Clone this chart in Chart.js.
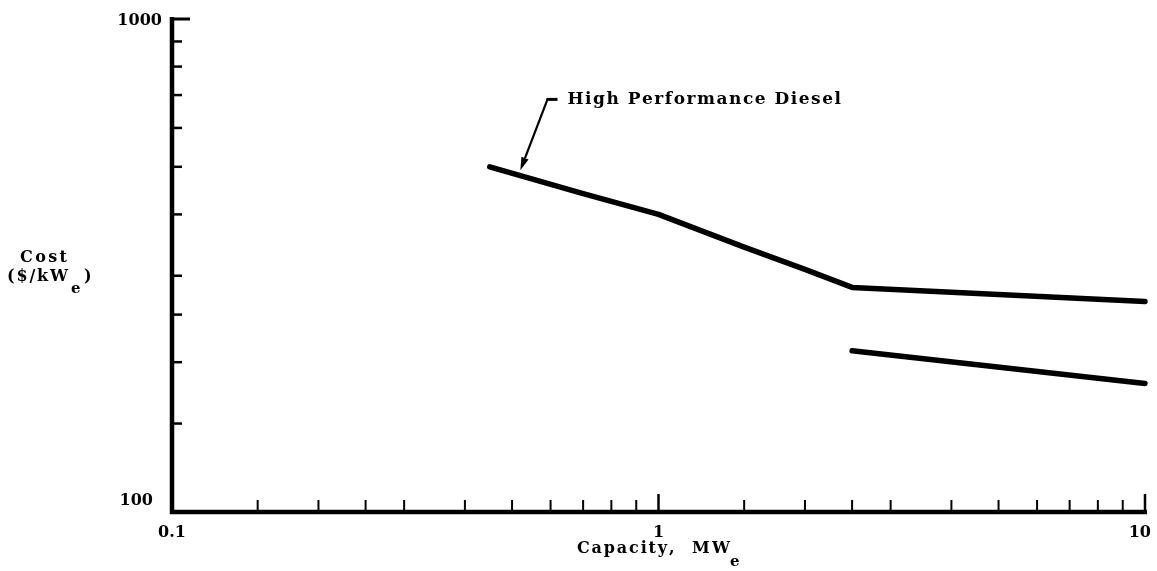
<!DOCTYPE html>
<html>
<head>
<meta charset="utf-8">
<script src="https://cdn.jsdelivr.net/npm/chart.js@4/dist/chart.umd.min.js"></script>
<style>
  html, body { margin: 0; padding: 0; background: #fff; }
  canvas { display: block; }
</style>
</head>
<body>
<canvas id="c" width="1157" height="571"></canvas>
<script>
// Installed cost of high performance diesel plants vs. capacity (log-log)
const upperCapacity = [0.45, 0.7, 1.0, 1.5, 2.0, 2.5, 10];
const upperCost     = [500, 441, 400, 343, 309, 284, 266];
const lowerCapacity = [2.5, 10];
const lowerCost     = [211, 181];

// Axis tick marks and labels
const xMinorTicks = [0.15, 0.2, 0.25, 0.3, 0.4, 0.5, 0.6, 0.7, 0.8, 0.9,
                     1.5, 2, 2.5, 3, 4, 5, 6, 7, 8, 9];
const xMajorTicks = [1, 10];
const xLabelValues = [0.1, 1, 10];
const xLabelTexts  = ['0.1', '1', '10'];
const yMinorTicks = [150, 200, 250, 300, 400, 500, 600, 700, 800, 900];
const yLabelValues = [100, 1000];
const yLabelTexts  = ['100', '1000'];

const annotationText = 'High Performance Diesel';

const FONT = '"DejaVu Serif", "Liberation Serif", serif';

// Draw text left-aligned, spreading the glyphs to fill a given width
function spaced(ctx, text, x, y, width) {
  const chars = [...text];
  const natural = ctx.measureText(text).width;
  const gap = chars.length > 1 ? (width - natural) / (chars.length - 1) : 0;
  let cx = x;
  for (const ch of chars) {
    ctx.fillText(ch, cx, y);
    cx += ctx.measureText(ch).width + gap;
  }
}

const axesPlugin = {
  id: 'paperAxes',
  afterDraw(chart) {
    const ctx = chart.ctx;
    const xs = chart.scales.x, ys = chart.scales.y;
    const x0 = xs.getPixelForValue(0.1);
    const y0 = ys.getPixelForValue(100);
    const y1 = ys.getPixelForValue(1000);
    const x1 = xs.getPixelForValue(10);

    ctx.save();
    ctx.strokeStyle = '#000';
    ctx.fillStyle = '#000';
    ctx.lineCap = 'butt';

    // axis lines
    ctx.lineWidth = 4.5;
    ctx.beginPath();
    ctx.moveTo(x0, y1 - 2);
    ctx.lineTo(x0, y0 + 2);
    ctx.lineTo(x1 + 2, y0 + 2);
    ctx.stroke();

    // y ticks (inward)
    ctx.lineWidth = 2.5;
    yMinorTicks.forEach(v => {
      const py = ys.getPixelForValue(v);
      ctx.beginPath(); ctx.moveTo(x0, py); ctx.lineTo(x0 + 10, py); ctx.stroke();
    });
    ctx.lineWidth = 3;
    ctx.beginPath(); ctx.moveTo(x0, y1); ctx.lineTo(x0 + 18, y1); ctx.stroke();

    // x ticks (inward)
    ctx.lineWidth = 2;
    xMinorTicks.forEach(v => {
      const px = xs.getPixelForValue(v);
      ctx.beginPath(); ctx.moveTo(px, y0); ctx.lineTo(px, y0 - 10); ctx.stroke();
    });
    ctx.lineWidth = 2.5;
    xMajorTicks.forEach(v => {
      const px = xs.getPixelForValue(v);
      ctx.beginPath(); ctx.moveTo(px, y0 + 2); ctx.lineTo(px, y0 - 16); ctx.stroke();
    });

    // tick labels
    ctx.font = 'bold 16px ' + FONT;
    ctx.textBaseline = 'alphabetic';
    yLabelValues.forEach((v, i) => {
      const py = ys.getPixelForValue(v);
      const t = yLabelTexts[i];
      const target = t.length * 11.2;
      const right = (v === 100) ? x0 - 19 : x0 - 10;
      const base = (v === 100) ? py - 5 : py + 6;
      spaced(ctx, t, right - target, base, target);
    });
    xLabelValues.forEach((v, i) => {
      const px = xs.getPixelForValue(v);
      const t = xLabelTexts[i];
      const w = ctx.measureText(t).width;
      let left = px - w / 2;
      if (left + w > chart.width - 6) left = chart.width - 6 - w;
      ctx.fillText(t, left, y0 + 27);
    });

    // y title
    ctx.font = 'bold 16px ' + FONT;
    spaced(ctx, 'Cost', 20, 262, 47);
    spaced(ctx, '($/kW', 7, 281, 61);
    ctx.fillText(')', 84, 281);
    ctx.font = 'bold 15px ' + FONT;
    ctx.fillText('e', 71, 293);

    // x title
    ctx.font = 'bold 16px ' + FONT;
    spaced(ctx, 'Capacity,', 577, 553, 96);
    spaced(ctx, 'MW', 692, 553, 38);
    ctx.font = 'bold 15px ' + FONT;
    ctx.fillText('e', 730, 566);

    // annotation with leader arrow
    const tipX = xs.getPixelForValue(0.52);
    const tipY = ys.getPixelForValue(492);
    const textX = xs.getPixelForValue(0.65);
    const textY = ys.getPixelForValue(670);
    ctx.font = 'bold 17px ' + FONT;
    spaced(ctx, annotationText, textX, textY, 273);

    const sx = textX - 20, sy = textY - 5;
    ctx.lineWidth = 3;
    ctx.beginPath(); ctx.moveTo(sx - 1, sy); ctx.lineTo(sx + 10, sy); ctx.stroke();
    ctx.lineWidth = 2.2;
    const dx = tipX - sx, dy = tipY - sy;
    const len = Math.hypot(dx, dy);
    const ux = dx / len, uy = dy / len;
    const head = 13, half = 3.8;
    ctx.beginPath(); ctx.moveTo(sx, sy); ctx.lineTo(tipX - ux * head, tipY - uy * head); ctx.stroke();
    ctx.beginPath();
    ctx.moveTo(tipX, tipY);
    ctx.lineTo(tipX - ux * head - uy * half, tipY - uy * head + ux * half);
    ctx.lineTo(tipX - ux * head + uy * half, tipY - uy * head - ux * half);
    ctx.closePath();
    ctx.fill();

    ctx.restore();
  }
};

const toPoints = (xs, ys) => xs.map((x, i) => ({ x, y: ys[i] }));

new Chart(document.getElementById('c'), {
  type: 'line',
  data: {
    datasets: [
      {
        label: 'High Performance Diesel',
        data: toPoints(upperCapacity, upperCost),
        borderColor: '#000', borderWidth: 5.5, pointRadius: 0,
        borderCapStyle: 'round', borderJoinStyle: 'round', tension: 0, clip: false
      },
      {
        label: 'lower',
        data: toPoints(lowerCapacity, lowerCost),
        borderColor: '#000', borderWidth: 5.5, pointRadius: 0,
        borderCapStyle: 'round', borderJoinStyle: 'round', tension: 0, clip: false
      }
    ]
  },
  options: {
    responsive: false,
    animation: false,
    layout: { padding: { left: 172, right: 12, top: 19, bottom: 61 } },
    plugins: { legend: { display: false }, tooltip: { enabled: false } },
    scales: {
      x: { type: 'logarithmic', min: 0.1, max: 10, display: false },
      y: { type: 'logarithmic', min: 100, max: 1000, display: false }
    }
  },
  plugins: [axesPlugin]
});
</script>
</body>
</html>
